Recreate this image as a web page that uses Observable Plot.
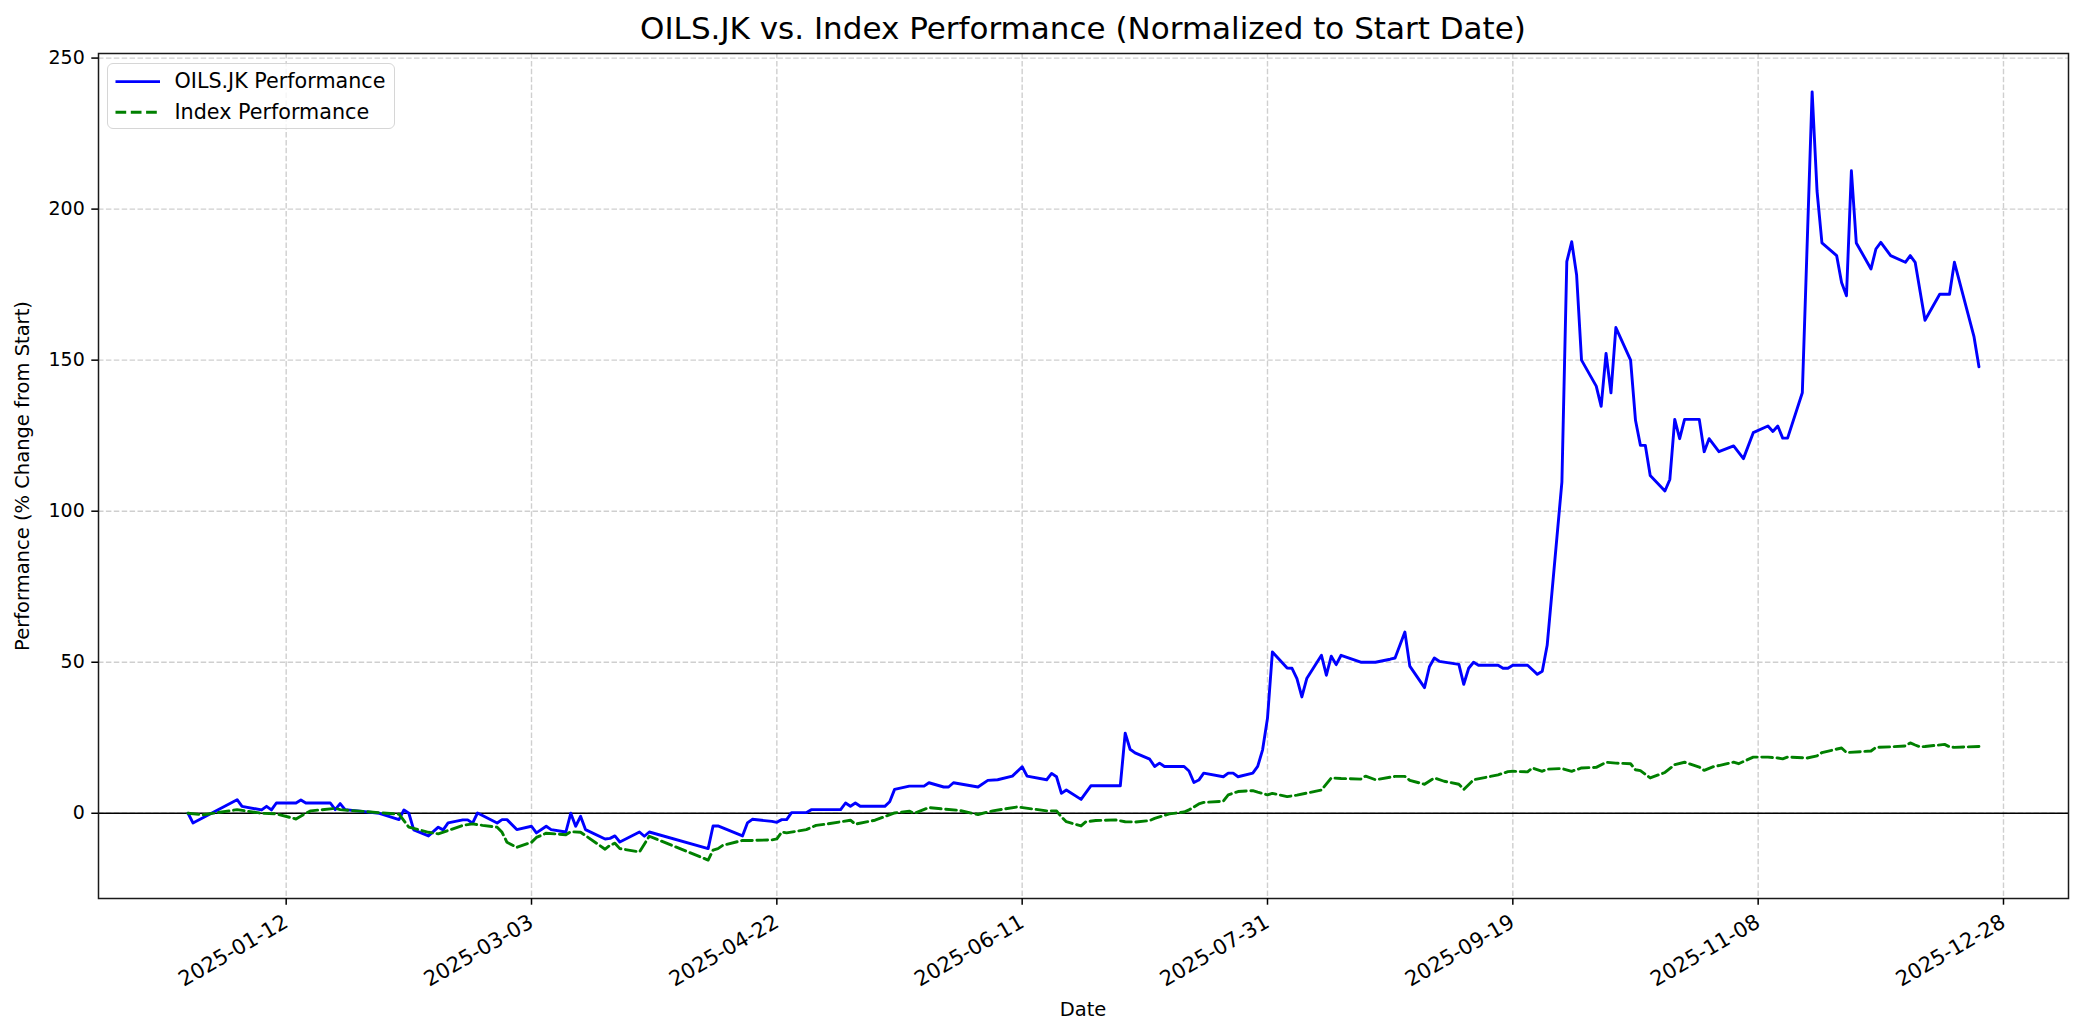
<!DOCTYPE html>
<html>
<head>
<meta charset="utf-8">
<script src="https://cdn.jsdelivr.net/npm/d3@7"></script>
<script src="https://cdn.jsdelivr.net/npm/@observablehq/plot@0.6"></script>
<style>
  html, body { margin: 0; padding: 0; background: #fff; }
  body { font-family: "DejaVu Sans", sans-serif; color: #000; }
  #wrap { position: relative; width: 2084px; height: 1035px; overflow: hidden; }
  #chart { position: absolute; left: 0; top: 0; }
  .title { position: absolute; left: 98px; width: 1970px; top: 13px; text-align: center; font-size: 31px; line-height: 1; }
  .xlabel { position: absolute; left: 98px; width: 1970px; top: 1000px; text-align: center; font-size: 19.5px; line-height: 1; }
  .ylabel { position: absolute; left: 23px; top: 475.5px; font-size: 19.5px; line-height: 1; white-space: nowrap;
            transform: translate(-50%, -50%) rotate(-90deg); }
  .legend { position: absolute; left: 107px; top: 62.7px; width: 288px; height: 66.6px; box-sizing: border-box;
            border: 1.5px solid #d6d6d6; border-radius: 6px; background: rgba(255,255,255,0.8); }
  .legend .row { position: absolute; left: 66.5px; font-size: 20.7px; line-height: 1; white-space: nowrap; }
  .legend svg { position: absolute; left: 0; top: 0; }
</style>
</head>
<body>
<div id="wrap">
  <div id="chart"></div>
  <div class="title">OILS.JK vs. Index Performance (Normalized to Start Date)</div>
  <div class="xlabel">Date</div>
  <div class="ylabel">Performance (% Change from Start)</div>
  <div class="legend" id="legend"></div>
</div>
<script>
// ---- Data ----
const stockDates = [
  "2024-12-23","2024-12-24","2025-01-02","2025-01-03","2025-01-07","2025-01-08","2025-01-09","2025-01-10",
  "2025-01-14","2025-01-15","2025-01-16","2025-01-21","2025-01-22","2025-01-23","2025-01-24","2025-01-31",
  "2025-02-04","2025-02-05","2025-02-06","2025-02-07","2025-02-10","2025-02-12","2025-02-13","2025-02-14",
  "2025-02-17","2025-02-18","2025-02-19","2025-02-20","2025-02-24","2025-02-25","2025-02-26","2025-02-28",
  "2025-03-03","2025-03-04","2025-03-06","2025-03-07","2025-03-10","2025-03-11","2025-03-12","2025-03-13",
  "2025-03-14","2025-03-18","2025-03-19","2025-03-20","2025-03-21","2025-03-25","2025-03-26","2025-03-27",
  "2025-04-08","2025-04-09","2025-04-10","2025-04-15","2025-04-16","2025-04-17","2025-04-21","2025-04-22",
  "2025-04-23","2025-04-24","2025-04-25","2025-04-28","2025-04-29","2025-05-05","2025-05-06","2025-05-07",
  "2025-05-08","2025-05-09","2025-05-14","2025-05-15","2025-05-16","2025-05-19","2025-05-22","2025-05-23",
  "2025-05-26","2025-05-27","2025-05-28","2025-06-02","2025-06-04","2025-06-06","2025-06-09","2025-06-11",
  "2025-06-12","2025-06-16","2025-06-17","2025-06-18","2025-06-19","2025-06-20","2025-06-23","2025-06-25",
  "2025-07-01","2025-07-02","2025-07-03","2025-07-04","2025-07-07","2025-07-08","2025-07-09","2025-07-10",
  "2025-07-14","2025-07-15","2025-07-16","2025-07-17","2025-07-18","2025-07-22","2025-07-23","2025-07-24",
  "2025-07-25","2025-07-28","2025-07-29","2025-07-30","2025-07-31","2025-08-01","2025-08-04","2025-08-05",
  "2025-08-06","2025-08-07","2025-08-08","2025-08-11","2025-08-12","2025-08-13","2025-08-14","2025-08-15",
  "2025-08-19","2025-08-22","2025-08-25","2025-08-26","2025-08-28","2025-08-29","2025-09-01","2025-09-02",
  "2025-09-03","2025-09-04","2025-09-08","2025-09-09","2025-09-10","2025-09-11","2025-09-12","2025-09-16",
  "2025-09-17","2025-09-18","2025-09-19","2025-09-22","2025-09-23","2025-09-24","2025-09-25","2025-09-26",
  "2025-09-29","2025-09-30","2025-10-01","2025-10-02","2025-10-03","2025-10-06","2025-10-07","2025-10-08",
  "2025-10-09","2025-10-10","2025-10-13","2025-10-14","2025-10-15","2025-10-16","2025-10-17","2025-10-20",
  "2025-10-21","2025-10-22","2025-10-23","2025-10-24","2025-10-27","2025-10-28","2025-10-29","2025-10-31",
  "2025-11-03","2025-11-05","2025-11-07","2025-11-10","2025-11-11","2025-11-12","2025-11-13","2025-11-14",
  "2025-11-17","2025-11-19","2025-11-20","2025-11-21","2025-11-24","2025-11-25","2025-11-26","2025-11-27",
  "2025-11-28","2025-12-01","2025-12-02","2025-12-03","2025-12-05","2025-12-08","2025-12-09","2025-12-10",
  "2025-12-12","2025-12-15","2025-12-17","2025-12-18","2025-12-22","2025-12-23"
];
const stockValues = [
  0, -3.2, 4.5, 2.3, 1.1, 2.3, 1.1, 3.4,
  3.4, 4.4, 3.4, 3.4, 1.2, 3.2, 1.2, 0,
  -2.1, 1.1, 0, -5.5, -7.5, -4.6, -5.5, -3.2,
  -2.2, -2.2, -3.3, 0.1, -3.2, -2.1, -2.1, -5.4,
  -4.3, -6.5, -4.3, -5.4, -6.2, 0, -4.3, -1,
  -5.4, -8.5, -8.3, -7.5, -9.5, -6.2, -7.6, -6.2,
  -11.7, -4.2, -4.2, -7.5, -3.2, -2.0, -2.7, -3.0,
  -2.1, -2.1, 0.2, 0.2, 1.2, 1.2, 3.4, 2.3,
  3.4, 2.3, 2.3, 3.8, 7.9, 9.0, 9.0, 10.1,
  8.7, 8.7, 10.1, 8.7, 10.9, 11.1, 12.3, 15.4,
  12.3, 11.1, 13.2, 12.1, 6.6, 7.7, 4.6, 9.1,
  9.1, 26.5, 21.2, 20.0, 17.9, 15.5, 16.6, 15.5,
  15.5, 14.0, 10.2, 11.0, 13.3, 12.1, 13.3, 13.3,
  12.1, 13.3, 15.5, 21.0, 31.5, 53.4, 48.1, 48.0,
  44.6, 38.5, 44.6, 52.3, 45.7, 52.0, 49.2, 52.3,
  50.0, 50.0, 51.0, 51.4, 60.0, 48.7, 41.6, 48.5,
  51.4, 50.3, 49.3, 42.7, 48.0, 50.0, 49.0, 49.0,
  48.0, 48.0, 49.0, 49.0, 47.5, 46.0, 47.0, 55.6,
  109.6, 182.6, 189.2, 178.2, 150.0, 141.4, 134.7, 152.2,
  139.2, 160.8, 150.0, 130.1, 121.8, 121.8, 111.8, 106.7,
  110.5, 130.4, 124.0, 130.4, 130.4, 119.7, 124.0, 119.7,
  121.6, 117.4, 126.0, 128.2, 126.4, 128.2, 124.2, 124.2,
  139.2, 238.8, 206.0, 188.8, 184.6, 175.7, 171.3, 212.7,
  188.8, 180.2, 186.8, 189.0, 184.6, 182.4, 184.6, 182.4,
  163.2, 171.8, 171.8, 182.4, 157.7, 147.8
];

const indexDates = [
  "2024-12-23","2024-12-26","2025-01-02","2025-01-07","2025-01-10","2025-01-14","2025-01-16","2025-01-17",
  "2025-01-22","2025-01-23","2025-01-31","2025-02-04","2025-02-06","2025-02-10","2025-02-12","2025-02-14",
  "2025-02-17","2025-02-19","2025-02-21","2025-02-24","2025-02-25","2025-02-26","2025-02-28","2025-03-03",
  "2025-03-04","2025-03-06","2025-03-10","2025-03-11","2025-03-13","2025-03-14","2025-03-18","2025-03-19",
  "2025-03-20","2025-03-21","2025-03-25","2025-03-27","2025-04-08","2025-04-09","2025-04-10","2025-04-11",
  "2025-04-15","2025-04-17","2025-04-21","2025-04-22","2025-04-23","2025-04-24","2025-04-28","2025-04-30",
  "2025-05-02","2025-05-07","2025-05-08","2025-05-12","2025-05-16","2025-05-19","2025-05-20","2025-05-23",
  "2025-05-26","2025-05-29","2025-06-02","2025-06-05","2025-06-10","2025-06-16","2025-06-18","2025-06-19",
  "2025-06-20","2025-06-23","2025-06-24","2025-06-26","2025-06-30","2025-07-02","2025-07-04","2025-07-07",
  "2025-07-08","2025-07-11","2025-07-14","2025-07-15","2025-07-17","2025-07-18","2025-07-22","2025-07-23",
  "2025-07-25","2025-07-28","2025-07-29","2025-07-31","2025-08-01","2025-08-04","2025-08-06","2025-08-11",
  "2025-08-13","2025-08-15","2025-08-19","2025-08-20","2025-08-22","2025-08-26","2025-08-28","2025-08-29",
  "2025-09-01","2025-09-03","2025-09-05","2025-09-08","2025-09-09","2025-09-11","2025-09-16","2025-09-18",
  "2025-09-19","2025-09-22","2025-09-23","2025-09-25","2025-09-26","2025-09-29","2025-10-01","2025-10-03",
  "2025-10-06","2025-10-08","2025-10-10","2025-10-13","2025-10-14","2025-10-15","2025-10-17","2025-10-20",
  "2025-10-22","2025-10-24","2025-10-27","2025-10-28","2025-10-30","2025-10-31","2025-11-03","2025-11-04",
  "2025-11-07","2025-11-10","2025-11-12","2025-11-13","2025-11-14","2025-11-18","2025-11-20","2025-11-21",
  "2025-11-25","2025-11-26","2025-12-01","2025-12-02","2025-12-05","2025-12-08","2025-12-09","2025-12-10",
  "2025-12-11","2025-12-12","2025-12-16","2025-12-17","2025-12-18","2025-12-23"
];
const indexValues = [
  0, -0.5, 1.2, 0, -0.2, -1.9, 0, 0.8,
  1.6, 1.2, 0.2, -0.3, -4.6, -6.3, -6.8, -5.7,
  -4.0, -3.5, -4.0, -4.6, -6.3, -9.6, -11.3, -9.6,
  -8.0, -6.6, -7.1, -6.1, -6.3, -7.4, -11.9, -10.6,
  -9.9, -11.7, -12.8, -7.6, -15.5, -12.2, -11.7, -10.6,
  -9.0, -9.0, -8.8, -8.5, -6.2, -6.5, -5.4, -4.0,
  -3.6, -2.3, -3.6, -2.3, 0.1, 0.7, 0.0, 1.9,
  1.4, 1.0, -0.4, 0.8, 2.1, 0.8, 0.8, -1.2,
  -2.8, -4.2, -2.8, -2.4, -2.2, -2.8, -2.9, -2.4,
  -1.7, -0.2, 0.4, 1.1, 3.1, 3.6, 4.0, 6.1,
  7.2, 7.5, 7.0, 6.1, 6.6, 5.5, 6.0, 7.7,
  11.7, 11.5, 11.3, 12.3, 11.1, 12.2, 12.2, 10.9,
  9.6, 11.7, 10.6, 9.6, 7.9, 11.1, 12.7, 13.8,
  13.9, 13.7, 15.0, 13.9, 14.6, 14.8, 13.9, 15.0,
  15.2, 16.9, 16.6, 16.4, 14.4, 14.1, 11.7, 13.5,
  16.1, 16.9, 15.3, 14.2, 15.5, 15.8, 16.9, 16.4,
  18.6, 18.6, 18.3, 18.0, 18.6, 18.3, 19.0, 20.1,
  21.6, 20.1, 20.6, 21.8, 22.0, 22.3, 23.3, 22.6,
  22.0, 22.1, 22.8, 22.0, 21.8, 22.1
];

const xTickLabels = ["2025-01-12","2025-03-03","2025-04-22","2025-06-11","2025-07-31","2025-09-19","2025-11-08","2025-12-28"];
const yTickValues = [0, 50, 100, 150, 200, 250];
const seriesNames = ["OILS.JK Performance", "Index Performance"];

// ---- Build tables ----
const parse = d3.utcParse("%Y-%m-%d");
const stock = stockDates.map((d, i) => ({date: parse(d), value: stockValues[i]}));
const index = indexDates.map((d, i) => ({date: parse(d), value: indexValues[i]}));
const xTicks = xTickLabels.map(parse);

// matplotlib-like 5% margins around the data extent
const allDates = stock.map(d => d.date).concat(index.map(d => d.date));
const allVals = stockValues.concat(indexValues);
const [d0, d1] = d3.extent(allDates);
const [v0, v1] = d3.extent(allVals);
const dm = (d1 - d0) * 0.05, vm = (v1 - v0) * 0.05;

const gridStyle = {stroke: "#cfcfcf", strokeOpacity: 1, strokeWidth: 1.4, strokeDasharray: "5.5,2.4"};

const chart = Plot.plot({
  width: 2084,
  height: 1035,
  marginLeft: 98,
  marginRight: 16,
  marginTop: 53,
  marginBottom: 137,
  style: {fontFamily: "DejaVu Sans", fontSize: "19px", color: "#000", background: "transparent", overflow: "visible"},
  x: {type: "utc", domain: [new Date(+d0 - dm), new Date(+d1 + dm)]},
  y: {domain: [v0 - vm, v1 + vm]},
  marks: [
    Plot.gridX(xTicks, gridStyle),
    Plot.gridY(yTickValues, gridStyle),
    Plot.ruleY([0], {stroke: "#000", strokeWidth: 1.3}),
    Plot.lineY(stock, {x: "date", y: "value", stroke: "#0000ff", strokeWidth: 2.9, curve: "linear"}),
    Plot.lineY(index, {x: "date", y: "value", stroke: "#008000", strokeWidth: 2.9, strokeDasharray: "10.7,4.6", curve: "linear"}),
    Plot.frame({stroke: "#1a1a1a", strokeWidth: 1.5}),
    Plot.axisX(xTicks, {
      tickFormat: d3.utcFormat("%Y-%m-%d"),
      tickRotate: -30,
      tickSize: 6.7,
      tickPadding: 15,
      strokeWidth: 1.5,
      fontSize: 21,
      label: null
    }),
    Plot.axisY(yTickValues, {
      tickSize: 6.7,
      tickPadding: 7,
      strokeWidth: 1.5,
      fontSize: 19,
      label: null
    })
  ]
});
document.getElementById("chart").appendChild(chart);

// ---- Legend ----
const leg = document.getElementById("legend");
const legColors = ["#0000ff", "#008000"];
const legDash = [null, "10.7,4.6"];
const rowY = [17.6, 48.3];
let svg = `<svg width="288" height="67" xmlns="http://www.w3.org/2000/svg">`;
seriesNames.forEach((n, i) => {
  svg += `<line x1="7.5" x2="52" y1="${rowY[i]}" y2="${rowY[i]}" stroke="${legColors[i]}" stroke-width="2.9"${legDash[i] ? ` stroke-dasharray="${legDash[i]}"` : ""}/>`;
});
svg += `</svg>`;
leg.innerHTML = svg + seriesNames.map((n, i) => `<div class="row" style="top:${(rowY[i] - 10).toFixed(1)}px">${n}</div>`).join("");
</script>
</body>
</html>
